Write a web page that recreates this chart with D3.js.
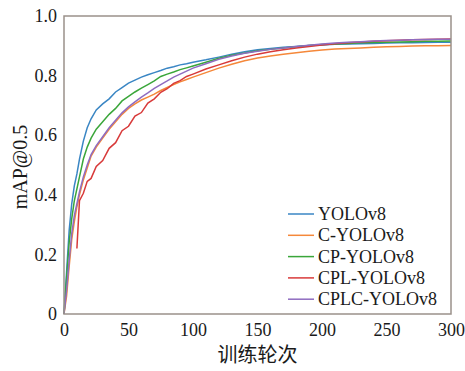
<!DOCTYPE html>
<html><head><meta charset="utf-8">
<script src="https://cdn.jsdelivr.net/npm/d3@7"></script>
<style>html,body{margin:0;padding:0;background:#fff;}</style>
</head><body><svg id="c" width="465" height="371"></svg>
<script>
const epochs = [0,2,4,6,8,10,12,15,18,21,25,30,35,40,45,50,55,60,65,70,75,80,85,90,95,100,110,120,130,140,150,160,170,180,190,200,210,220,230,240,250,260,270,280,290,300];
const seriesNames = ["YOLOv8","C-YOLOv8","CP-YOLOv8","CPL-YOLOv8","CPLC-YOLOv8"];
const yolov8 = [0,0.14,0.28,0.37,0.43,0.47,0.52,0.58,0.625,0.655,0.685,0.705,0.722,0.745,0.76,0.775,0.785,0.795,0.803,0.81,0.817,0.825,0.83,0.836,0.84,0.845,0.853,0.862,0.872,0.88,0.887,0.891,0.895,0.898,0.901,0.903,0.905,0.906,0.907,0.908,0.909,0.91,0.91,0.911,0.912,0.912];
const cYolov8 = [0,0.06,0.16,0.25,0.31,0.36,0.40,0.45,0.49,0.53,0.56,0.59,0.62,0.645,0.67,0.69,0.705,0.718,0.728,0.738,0.75,0.76,0.77,0.779,0.787,0.795,0.81,0.825,0.838,0.85,0.859,0.866,0.872,0.877,0.882,0.886,0.889,0.891,0.893,0.895,0.897,0.898,0.899,0.9,0.9,0.901];
const cpYolov8 = [0,0.12,0.24,0.32,0.38,0.42,0.46,0.52,0.56,0.59,0.62,0.645,0.67,0.69,0.715,0.73,0.745,0.758,0.77,0.782,0.797,0.805,0.812,0.82,0.826,0.832,0.845,0.858,0.868,0.876,0.883,0.888,0.893,0.897,0.901,0.904,0.906,0.908,0.91,0.911,0.912,0.913,0.914,0.915,0.915,0.916];
const cplYolov8 = [null,null,null,null,null,0.22,0.38,0.405,0.445,0.455,0.495,0.515,0.556,0.575,0.615,0.63,0.664,0.676,0.708,0.722,0.744,0.756,0.774,0.783,0.797,0.805,0.822,0.836,0.85,0.862,0.872,0.88,0.887,0.893,0.898,0.903,0.907,0.91,0.913,0.915,0.917,0.919,0.92,0.921,0.922,0.923];
const cplcYolov8 = [0,0.08,0.18,0.27,0.33,0.37,0.41,0.46,0.50,0.535,0.565,0.595,0.625,0.65,0.675,0.695,0.712,0.728,0.742,0.757,0.77,0.782,0.795,0.805,0.815,0.825,0.84,0.855,0.866,0.875,0.882,0.888,0.893,0.898,0.902,0.906,0.909,0.912,0.914,0.916,0.918,0.919,0.92,0.921,0.922,0.922];
const xTicks = [0,50,100,150,200,250,300];
const yTicks = [0,0.2,0.4,0.6,0.8,1.0];
const yTickLabels = ["0","0.2","0.4","0.6","0.8","1.0"];

const colors = ["#3a86c4","#f5883a","#3aa63a","#d83a3a","#8f6cc0"];
const allSeries = [yolov8,cYolov8,cpYolov8,cplYolov8,cplcYolov8];

const L=64,R=451,T=16,B=314;
const svg = d3.select("#c");
const x = d3.scaleLinear().domain([0,300]).range([L,R]);
const y = d3.scaleLinear().domain([0,1]).range([B,T]);
const serif = "'Liberation Serif','Times New Roman',serif";

const line = d3.line().defined(d=>d[1]!=null).x(d=>x(d[0])).y(d=>y(d[1]));
allSeries.forEach((s,i)=>{
  svg.append("path").datum(epochs.map((e,j)=>[e,s[j]]))
    .attr("d",line).attr("fill","none").attr("stroke",colors[i]).attr("stroke-width",1.5);
});

svg.append("rect").attr("x",L).attr("y",T).attr("width",R-L).attr("height",B-T)
  .attr("fill","none").attr("stroke","#9a918a").attr("stroke-width",1.5);

const xAxis = d3.axisBottom(x).tickValues(xTicks).tickSize(0).tickPadding(9);
const gx = svg.append("g").attr("transform",`translate(0,${B})`).call(xAxis);
gx.select(".domain").remove();
gx.selectAll("text").attr("font-family",serif).attr("font-size",18).attr("fill","#1a1a1a");

const yAxis = d3.axisLeft(y).tickValues(yTicks).tickFormat((d,i)=>yTickLabels[i]).tickSize(0).tickPadding(7);
const gy = svg.append("g").attr("transform",`translate(${L},0)`).call(yAxis);
gy.select(".domain").remove();
gy.selectAll("text").attr("font-family",serif).attr("font-size",18).attr("fill","#1a1a1a");

svg.append("text").attr("transform",`translate(22,${(T+B)/2+2}) rotate(-90)`)
  .attr("text-anchor","middle").attr("dominant-baseline","middle")
  .attr("font-family",serif).attr("font-size",20).attr("fill","#1a1a1a").text("mAP@0.5");

svg.append("text").attr("x",(L+R)/2).attr("y",362).attr("text-anchor","middle")
  .attr("font-family","'Noto Sans CJK SC',sans-serif").attr("font-size",20).attr("fill","#1a1a1a").text("训练轮次");

const lg = svg.append("g");
seriesNames.forEach((n,i)=>{
  const yy = 214 + i*21.3;
  lg.append("line").attr("x1",288).attr("x2",314).attr("y1",yy).attr("y2",yy)
    .attr("stroke",colors[i]).attr("stroke-width",1.5);
  lg.append("text").attr("x",318).attr("y",yy).attr("dominant-baseline","central")
    .attr("font-family",serif).attr("font-size",18).attr("fill","#1a1a1a").text(n);
});
</script></body></html>
